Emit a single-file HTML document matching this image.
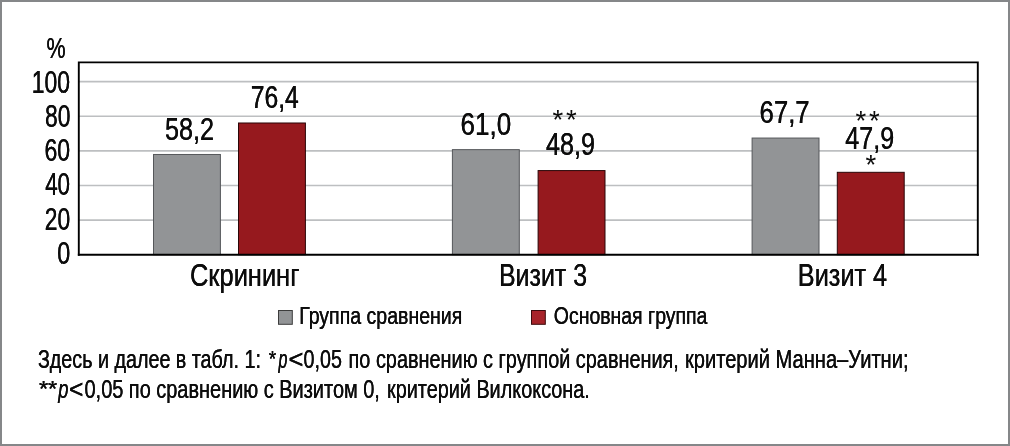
<!DOCTYPE html>
<html lang="ru"><head><meta charset="utf-8"><title>Диаграмма</title>
<style>
html,body{margin:0;padding:0;background:#fff;}
body{width:1010px;height:446px;overflow:hidden;}
svg{display:block;}
text{font-family:"Liberation Sans",sans-serif;fill:#0c0c0c;stroke:#0c0c0c;stroke-width:0.15px;}
.tx{filter:drop-shadow(0.45px 0 0 #0c0c0c);}
.a{font-size:30.5px;}
.d{font-size:30.5px;}
.p{font-size:28.8px;}
.b{font-size:23.0px;}
.f{font-size:25.2px;}
.fa{font-size:22px;}
.s{font-size:27.5px;stroke-width:0;}
.i{font-style:italic;}
</style></head><body>
<svg width="1010" height="446" viewBox="0 0 1010 446">
<rect x="0" y="0" width="1010" height="446" fill="#fff"/>
<rect x="1" y="1" width="1008" height="444" fill="none" stroke="#858789" stroke-width="2"/>

<line x1="79" x2="977" y1="220.09" y2="220.09" stroke="#bdbfc1" stroke-width="1.7"/>
<line x1="79" x2="977" y1="185.48" y2="185.48" stroke="#bdbfc1" stroke-width="1.7"/>
<line x1="79" x2="977" y1="150.87" y2="150.87" stroke="#bdbfc1" stroke-width="1.7"/>
<line x1="79" x2="977" y1="116.26" y2="116.26" stroke="#bdbfc1" stroke-width="1.7"/>
<line x1="79" x2="977" y1="81.65" y2="81.65" stroke="#bdbfc1" stroke-width="1.7"/>
<rect x="153.5" y="154.48" width="66.9" height="100.22" fill="#929496" stroke="#55575a" stroke-width="1"/>
<rect x="238.5" y="122.99" width="66.9" height="131.71" fill="#96191e" stroke="#2a0608" stroke-width="1"/>
<rect x="452.4" y="149.64" width="66.9" height="105.06" fill="#929496" stroke="#55575a" stroke-width="1"/>
<rect x="538.1" y="170.58" width="66.9" height="84.12" fill="#96191e" stroke="#2a0608" stroke-width="1"/>
<rect x="752.1" y="138.05" width="66.9" height="116.65" fill="#929496" stroke="#55575a" stroke-width="1"/>
<rect x="837.3" y="172.31" width="66.9" height="82.39" fill="#96191e" stroke="#2a0608" stroke-width="1"/>
<path d="M78.8 255.8V62.4H977.8V255.8" fill="none" stroke="#000" stroke-width="1.9"/>
<line x1="77.85" x2="978.75" y1="254.8" y2="254.8" stroke="#000" stroke-width="2"/>
<text id="pct" class="p tx" x="46.43" y="57.60" textLength="19.11" lengthAdjust="spacingAndGlyphs">%</text>
<text id="y100" class="d tx" x="31.78" y="93.00" textLength="38.25" lengthAdjust="spacingAndGlyphs">100</text>
<text id="y80" class="d tx" x="44.92" y="127.00" textLength="25.44" lengthAdjust="spacingAndGlyphs">80</text>
<text id="y60" class="d tx" x="44.50" y="161.00" textLength="25.65" lengthAdjust="spacingAndGlyphs">60</text>
<text id="y40" class="d tx" x="45.14" y="195.00" textLength="24.95" lengthAdjust="spacingAndGlyphs">40</text>
<text id="y20" class="d tx" x="44.74" y="230.00" textLength="25.43" lengthAdjust="spacingAndGlyphs">20</text>
<text id="y0" class="d tx" x="57.24" y="264.00" textLength="12.99" lengthAdjust="spacingAndGlyphs">0</text>
<text id="v1" class="d tx" x="164.96" y="139.50" textLength="49.09" lengthAdjust="spacingAndGlyphs">58,2</text>
<text id="v2" class="d tx" x="250.65" y="108.30" textLength="48.13" lengthAdjust="spacingAndGlyphs">76,4</text>
<text id="v3" class="d tx" x="460.52" y="134.60" textLength="50.60" lengthAdjust="spacingAndGlyphs">61,0</text>
<text id="v4" class="d tx" x="546.02" y="155.30" textLength="49.01" lengthAdjust="spacingAndGlyphs">48,9</text>
<text id="v5" class="d tx" x="759.59" y="123.40" textLength="50.06" lengthAdjust="spacingAndGlyphs">67,7</text>
<text id="v6" class="d tx" x="845.33" y="149.30" textLength="49.02" lengthAdjust="spacingAndGlyphs">47,9</text>
<text id="s2" class="s" x="552.40" y="129.30" textLength="24.33" lengthAdjust="spacing">**</text>
<text id="s3" class="s" x="855.40" y="130.00" textLength="24.33" lengthAdjust="spacing">**</text>
<text id="s4" class="s" x="865.40" y="174.00" textLength="20.43" lengthAdjust="spacing">*</text>
<text id="x1" class="a tx" x="189.99" y="285.80" textLength="109.47" lengthAdjust="spacingAndGlyphs">Скрининг</text>
<text id="x2" class="a tx" x="498.93" y="285.80" textLength="88.11" lengthAdjust="spacingAndGlyphs">Визит 3</text>
<text id="x3" class="a tx" x="797.83" y="285.80" textLength="89.32" lengthAdjust="spacingAndGlyphs">Визит 4</text>
<text id="l1" class="b tx" x="299.24" y="324.40" textLength="163.05" lengthAdjust="spacingAndGlyphs">Группа сравнения</text>
<text id="l2" class="b tx" x="553.83" y="324.40" textLength="153.50" lengthAdjust="spacingAndGlyphs">Основная группа</text>
<text id="L1" class="f tx"><tspan id="f1a" class="f" x="37.92" y="368.00" textLength="223.00" lengthAdjust="spacingAndGlyphs">Здесь и далее в табл. 1:</tspan> <tspan id="f1b" class="fa" x="268.74" y="365.60" textLength="7.44" lengthAdjust="spacingAndGlyphs">*</tspan><tspan id="f1c" class="f i" x="278.45" y="368.00" textLength="8.88" lengthAdjust="spacingAndGlyphs">p</tspan><tspan id="f1d" class="f" x="288.40" y="368.00" textLength="14.91" lengthAdjust="spacingAndGlyphs">&lt;</tspan><tspan id="f1e" class="f" x="303.56" y="368.00" textLength="38.34" lengthAdjust="spacingAndGlyphs">0,05</tspan> <tspan id="f1f" class="f" x="348.58" y="368.00" textLength="330.30" lengthAdjust="spacingAndGlyphs">по сравнению с группой сравнения,</tspan> <tspan id="f1g" class="f" x="684.93" y="368.00" textLength="223.64" lengthAdjust="spacingAndGlyphs">критерий Манна–Уитни;</tspan>
</text>
<text id="L2" class="f tx"><tspan id="f2a" class="fa" x="38.94" y="395.60" textLength="18.35" lengthAdjust="spacingAndGlyphs">**</tspan><tspan id="f2b" class="f i" x="58.22" y="398.00" textLength="10.15" lengthAdjust="spacingAndGlyphs">p</tspan><tspan id="f2c" class="f" x="69.02" y="398.00" textLength="14.37" lengthAdjust="spacingAndGlyphs">&lt;</tspan><tspan id="f2d" class="f" x="84.45" y="398.00" textLength="39.03" lengthAdjust="spacingAndGlyphs">0,05</tspan> <tspan id="f2e" class="f" x="128.86" y="398.00" textLength="251.04" lengthAdjust="spacingAndGlyphs">по сравнению с Визитом 0,</tspan> <tspan id="f2f" class="f" x="386.96" y="398.00" textLength="202.88" lengthAdjust="spacingAndGlyphs">критерий Вилкоксона.</tspan>
</text>
<rect x="278.5" y="310.5" width="13.8" height="13.8" fill="#929496" stroke="#3c3c3c" stroke-width="1"/>
<rect x="531.5" y="310.5" width="13.8" height="13.8" fill="#a7232a" stroke="#3a0a0d" stroke-width="1"/>
</svg>
</body></html>
